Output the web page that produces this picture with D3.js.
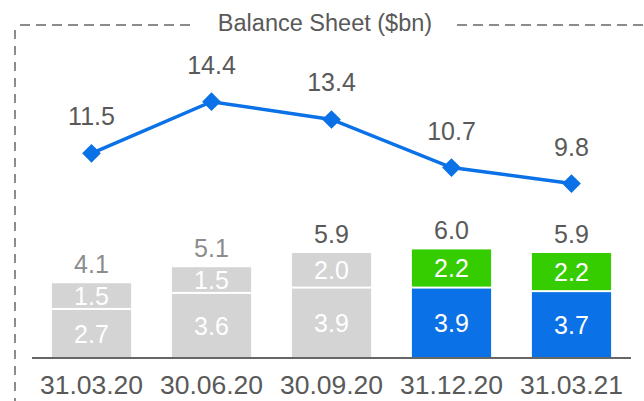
<!DOCTYPE html>
<html>
<head>
<meta charset="utf-8">
<script src="https://cdn.jsdelivr.net/npm/d3@7"></script>
<style>
  body { margin: 0; background: #fff; }
  svg { display: block; font-family: "Liberation Sans", Arial, sans-serif; }
</style>
</head>
<body>
<svg width="644" height="401"></svg>
<script>
var dates = ["31.03.20", "30.06.20", "30.09.20", "31.12.20", "31.03.21"];
var lower = [2.7, 3.6, 3.9, 3.9, 3.7];
var upper = [1.5, 1.5, 2.0, 2.2, 2.2];
var totals = ["4.1", "5.1", "5.9", "6.0", "5.9"];
var lineVals = [11.5, 14.4, 13.4, 10.7, 9.8];
var highlighted = [false, false, false, true, true];

var svg = d3.select("svg");
var base = 358;

var x = d3.scaleBand()
    .domain(dates)
    .range([31.5, 631.5])
    .paddingInner(0.34)
    .paddingOuter(0.17);

var y = d3.scaleLinear()
    .domain([0, 16])
    .range([base, base - 16 * 17.8]);

// frame: dashed title rule + left edge
var frame = svg.append("g")
    .attr("stroke", "#8c8c8c")
    .attr("stroke-width", 2)
    .attr("stroke-dasharray", "10,6")
    .attr("fill", "none");
frame.append("line").attr("x1", 20).attr("x2", 196).attr("y1", 25).attr("y2", 25);
frame.append("line").attr("x1", 457).attr("x2", 644).attr("y1", 25).attr("y2", 25);
frame.append("line").attr("x1", 15).attr("x2", 15).attr("y1", 30).attr("y2", 401)
    .attr("stroke-dasharray", "9,7");

svg.append("text")
    .attr("x", 325).attr("y", 31)
    .attr("text-anchor", "middle")
    .attr("font-size", 23.5)
    .attr("fill", "#595959")
    .text("Balance Sheet ($bn)");

// stacked bars
var bars = svg.selectAll(".bar")
    .data(dates)
    .enter().append("g")
    .attr("class", "bar");

bars.append("rect")
    .attr("x", function (d) { return x(d); })
    .attr("width", x.bandwidth())
    .attr("y", function (d, i) { return y(lower[i]); })
    .attr("height", function (d, i) { return base - y(lower[i]); })
    .attr("fill", function (d, i) { return highlighted[i] ? "#0a71e6" : "#d4d4d4"; });

bars.append("rect")
    .attr("x", function (d) { return x(d); })
    .attr("width", x.bandwidth())
    .attr("y", function (d, i) { return y(lower[i] + upper[i]); })
    .attr("height", function (d, i) { return y(lower[i]) - y(lower[i] + upper[i]) - 2; })
    .attr("fill", function (d, i) { return highlighted[i] ? "#35cc00" : "#d4d4d4"; });

bars.append("text")
    .attr("x", function (d) { return x(d) + x.bandwidth() / 2; })
    .attr("y", function (d, i) { return (y(lower[i]) + base) / 2; })
    .attr("dy", "0.36em")
    .attr("text-anchor", "middle")
    .attr("font-size", 25)
    .attr("fill", "#fff")
    .text(function (d, i) { return lower[i].toFixed(1); });

bars.append("text")
    .attr("x", function (d) { return x(d) + x.bandwidth() / 2; })
    .attr("y", function (d, i) { return (y(lower[i]) + y(lower[i] + upper[i])) / 2 - 1; })
    .attr("dy", "0.36em")
    .attr("text-anchor", "middle")
    .attr("font-size", 25)
    .attr("fill", "#fff")
    .text(function (d, i) { return upper[i].toFixed(1); });

bars.append("text")
    .attr("x", function (d) { return x(d) + x.bandwidth() / 2; })
    .attr("y", function (d, i) { return y(lower[i] + upper[i]) - 10; })
    .attr("text-anchor", "middle")
    .attr("font-size", 25)
    .attr("fill", function (d, i) { return i < 2 ? "#8c8c8c" : "#595959"; })
    .text(function (d, i) { return totals[i]; });

// x axis
svg.append("line")
    .attr("x1", 32).attr("x2", 631)
    .attr("y1", base).attr("y2", base)
    .attr("stroke", "#666").attr("stroke-width", 2);

svg.selectAll(".xlab")
    .data(dates)
    .enter().append("text")
    .attr("class", "xlab")
    .attr("x", function (d) { return x(d) + x.bandwidth() / 2; })
    .attr("y", 394)
    .attr("text-anchor", "middle")
    .attr("font-size", 26.5)
    .attr("fill", "#595959")
    .text(function (d) { return d; });

// line series
var line = d3.line()
    .x(function (d, i) { return x(dates[i]) + x.bandwidth() / 2; })
    .y(function (d) { return y(d); });

svg.append("path")
    .datum(lineVals)
    .attr("d", line)
    .attr("fill", "none")
    .attr("stroke", "#0a71e6")
    .attr("stroke-width", 3.5);

var sym = d3.symbol().type(d3.symbolSquare).size(175);
svg.selectAll(".pt")
    .data(lineVals)
    .enter().append("path")
    .attr("class", "pt")
    .attr("d", sym)
    .attr("fill", "#0a71e6")
    .attr("transform", function (d, i) {
        return "translate(" + (x(dates[i]) + x.bandwidth() / 2) + "," + y(d) + ") rotate(45)";
    });

svg.selectAll(".plab")
    .data(lineVals)
    .enter().append("text")
    .attr("class", "plab")
    .attr("x", function (d, i) { return x(dates[i]) + x.bandwidth() / 2; })
    .attr("y", function (d) { return y(d) - 28; })
    .attr("text-anchor", "middle")
    .attr("font-size", 25)
    .attr("fill", "#595959")
    .text(function (d) { return d.toFixed(1); });
</script>
</body>
</html>
